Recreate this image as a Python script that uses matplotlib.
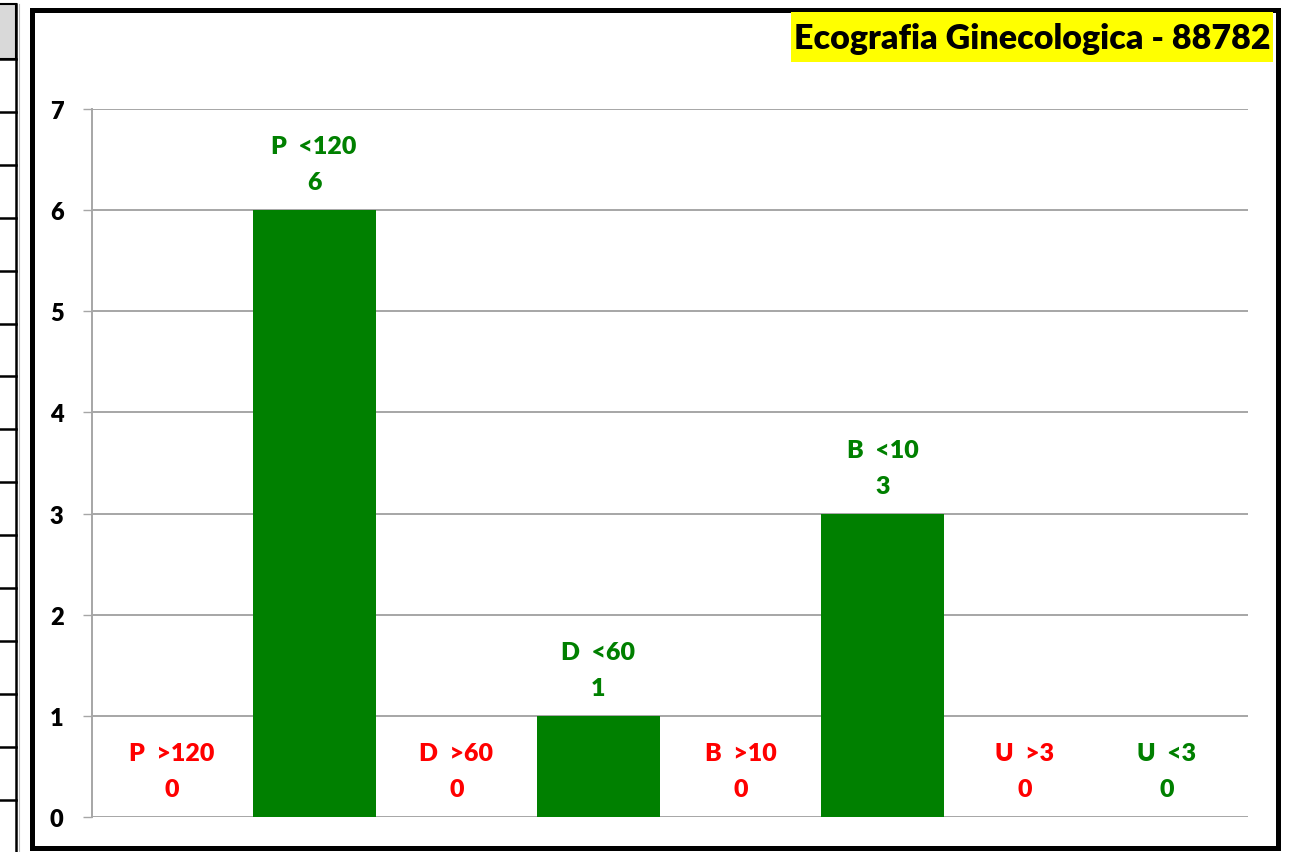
import numpy as np
import matplotlib
matplotlib.use("Agg")
import matplotlib.pyplot as plt
from matplotlib.patches import Rectangle

plt.rcParams['font.family'] = ['Lato', 'DejaVu Sans']
plt.rcParams['font.weight'] = 'heavy'

# data
categories = ['P  >120', 'P  <120', 'D  >60', 'D  <60', 'B  >10', 'B  <10', 'U  >3', 'U  <3']
values = [0, 6, 0, 1, 0, 3, 0, 0]
colors = ['#FF0000', '#008000', '#FF0000', '#008000', '#FF0000', '#008000', '#FF0000', '#008000']
title = 'Ecografia Ginecologica - 88782'

W, H = 1295, 853
fig = plt.figure(figsize=(W / 100, H / 100), dpi=100)

# background layer in pixel coords (left table fragment + chart frame)
bg = fig.add_axes([0, 0, 1, 1])
bg.set_xlim(0, W)
bg.set_ylim(H, 0)
bg.axis('off')
bg.add_patch(Rectangle((-2, 5), 18, 55, facecolor='#D9D9D9', edgecolor='black', lw=1.5))
for yy in np.arange(60, 853, 52.9):
    bg.plot([-2, 16], [yy, yy], color='black', lw=1.8)
bg.plot([16, 16], [5, H], color='black', lw=1.8)
bg.plot([18.5, 18.5], [5, H], color='#BBBBBB', lw=0.8)
bg.add_patch(Rectangle((32, 10.5), 1246, 838, facecolor='white', edgecolor='black', lw=3.6))

# title box
bg.add_patch(Rectangle((791, 13), 482, 50, facecolor='#FFFF00', edgecolor='none'))
bg.text(1032, 39, title, ha='center', va='center', fontsize=24.5, fontweight='heavy', color='black')

# main chart
ax = fig.add_axes([92 / W, 35 / H, (1248 - 92) / W, (818 - 110) / H])
ax.set_facecolor('none')
x = np.arange(len(categories))
ax.bar(x, values, width=0.866, color=colors[1], zorder=3)
for i in range(len(categories)):
    # zero bars hidden, just the labels
    ax.annotate(categories[i], (x[i], values[i]), xytext=(0, 46), textcoords='offset points',
                ha='center', va='center', fontsize=18, fontweight='heavy', color=colors[i])
    ax.annotate(str(values[i]), (x[i], values[i]), xytext=(0, 20), textcoords='offset points',
                ha='center', va='center', fontsize=18, fontweight='heavy', color=colors[i])

ax.set_xlim(-0.563, 7.57)
ax.set_ylim(0, 7)
ax.set_yticks(range(0, 8))
ax.set_xticks([])
ax.yaxis.grid(True, color='#A6A6A6', lw=1.4, zorder=0)
ax.set_axisbelow(True)
for s in ['top', 'right', 'bottom']:
    ax.spines[s].set_visible(False)
ax.spines['left'].set_color('#A6A6A6')
ax.spines['left'].set_linewidth(1.4)
ax.tick_params(axis='y', direction='out', length=6.5, width=1.0, color='#A6A6A6',
               pad=14, labelsize=17, labelcolor='black')
for lab in ax.get_yticklabels():
    lab.set_fontweight('heavy')

fig.savefig('out.png', dpi=100)
